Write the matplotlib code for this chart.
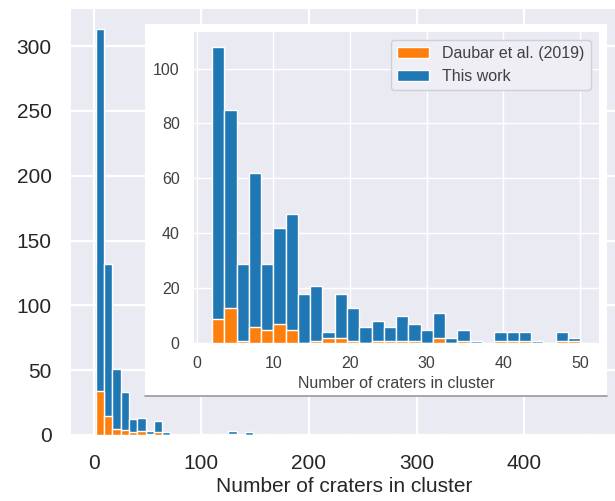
import matplotlib.pyplot as plt
import numpy as np
from matplotlib.patches import Rectangle, Patch
from matplotlib.lines import Line2D

plt.style.use('seaborn-v0_8-darkgrid')
plt.rcParams['font.family'] = ['Liberation Sans', 'DejaVu Sans']

# main histogram: 60 bins between 2 and 464 craters
main_edges = np.linspace(2, 464, 61)
main_this_work = [313, 132, 51, 33, 12, 13, 3, 11, 2, 1,
                  0, 0, 1, 0, 1, 0, 3, 0, 2, 0,
                  1, 0, 0, 1, 1, 0, 0, 0, 0, 0,
                  1, 0, 0, 0, 0, 0, 1, 0, 0, 0,
                  0, 1, 0, 0, 0, 0, 0, 0, 0, 0,
                  0, 0, 0, 0, 0, 0, 0, 0, 0, 1]
main_daubar = [34, 15, 5, 4, 2, 3, 1, 2, 0, 0,
               0, 0, 0, 0, 0, 0, 1, 0, 0, 0,
               0, 0, 0, 0, 0, 0, 0, 0, 0, 0,
               0, 0, 0, 0, 0, 0, 0, 0, 0, 0,
               0, 0, 0, 0, 0, 0, 0, 0, 0, 0,
               0, 0, 0, 0, 0, 0, 0, 0, 0, 0]

# inset histogram: 30 bins between 2 and 50 craters
inset_edges = np.linspace(2, 50, 31)
inset_this_work = [108, 85, 29, 62, 29, 42, 47, 18, 21, 4,
                   18, 13, 6, 8, 6, 10, 7, 5, 11, 2,
                   5, 1, 0, 4, 4, 4, 1, 0, 4, 2]
inset_daubar = [9, 13, 1, 6, 5, 7, 5, 0, 1, 2,
                2, 1, 0, 1, 1, 1, 1, 0, 2, 0,
                1, 0, 0, 1, 1, 1, 0, 0, 1, 1]

blue = '#1f77b4'
orange = '#ff7f0e'
W, H = 615, 501

fig = plt.figure(figsize=(6.15, 5.01), dpi=100)

# main axes (runs slightly past the right edge, as in the original crop)
ax = fig.add_axes([71 / W, (H - 435) / H, 547 / W, 426 / H])
mid = (main_edges[:-1] + main_edges[1:]) / 2
ax.hist(mid, bins=main_edges, weights=main_this_work, color=blue, edgecolor='white', linewidth=1)
ax.hist(mid, bins=main_edges, weights=main_daubar, color=orange, edgecolor='white', linewidth=1)
ax.set_xticks([0, 100, 200, 300, 400])
ax.set_yticks(range(0, 301, 50))
ax.grid(True, color='white', linewidth=1.6)
ax.tick_params(axis='y', labelsize=15, pad=14, colors='#262626')
ax.tick_params(axis='x', labelsize=15, pad=13.5, colors='#262626')
ax.set_xlabel('Number of craters in cluster', fontsize=15, color='#262626', labelpad=3)

# white backing for the inset
fig.add_artist(Rectangle((145 / W, (H - 396) / H), 462 / W, 372 / H, transform=fig.transFigure,
                         facecolor='white', edgecolor='none', zorder=1))
fig.add_artist(Line2D([145 / W, 607 / W], [(H - 396) / H] * 2, transform=fig.transFigure,
                      color='#9a9a9a', linewidth=1.2, zorder=1.5))

# inset axes
axin = fig.add_axes([193.6 / W, (H - 343.3) / H, 405 / W, 311.6 / H], zorder=2)
imid = (inset_edges[:-1] + inset_edges[1:]) / 2
axin.hist(imid, bins=inset_edges, weights=inset_this_work, color=blue, edgecolor='white', linewidth=1)
axin.hist(imid, bins=inset_edges, weights=inset_daubar, color=orange, edgecolor='white', linewidth=1)
axin.set_xticks([0, 10, 20, 30, 40, 50])
axin.set_yticks([0, 20, 40, 60, 80, 100])
axin.grid(True, color='white', linewidth=1)
axin.tick_params(axis='y', labelsize=11.5, pad=10, colors='#404040')
axin.tick_params(axis='x', labelsize=11.5, pad=9, colors='#404040')
axin.set_xlabel('Number of craters in cluster', fontsize=11.5, color='#404040', labelpad=4)

handles = [Patch(facecolor=orange, edgecolor='white'), Patch(facecolor=blue, edgecolor='white')]
leg = axin.legend(handles, ['Daubar et al. (2019)', 'This work'], loc='upper right', fontsize=11.5,
                  frameon=True, facecolor='#EEEEF4', edgecolor='#cfcfd6', framealpha=1)
for t in leg.get_texts():
    t.set_color('#404040')

plt.savefig('out.png', dpi=100)
